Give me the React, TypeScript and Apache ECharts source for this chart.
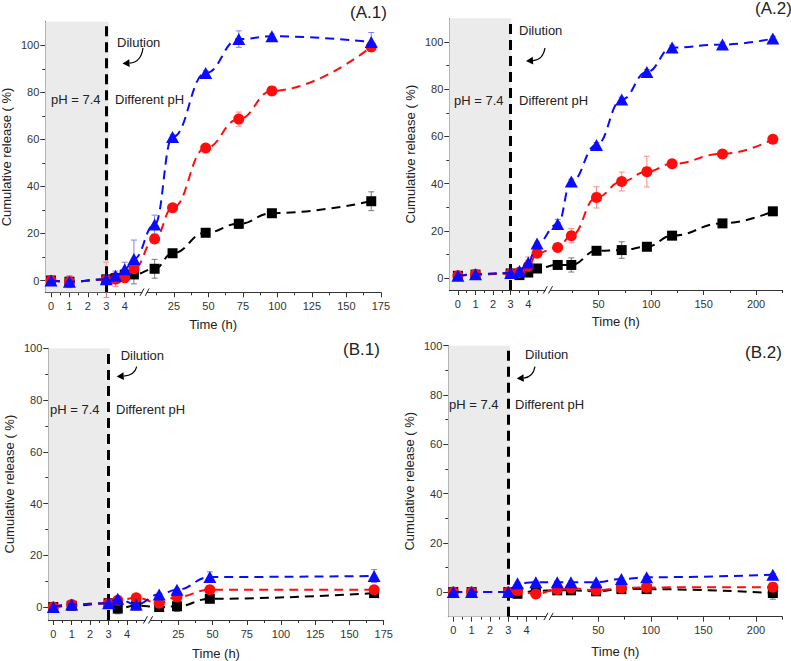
import React, { useEffect, useRef } from "react";
import * as echarts from "echarts";

const FONT = '"Liberation Sans", Arial, Helvetica, sans-serif';

// ---------------- Data (time in h, cumulative release in %) ----------------
// Panel A.1
const a1Times = [0, 1, 3, 3.5, 4, 4.5, 11, 24, 48, 72, 96, 168];
const a1Black = [0, -0.5, 0.5, 1, 2.5, 2.6, 5, 11.6, 20.3, 24.1, 28.6, 33.7];
const a1BlackErr = [1, 1.5, 1.5, 2, 2, 4, 4, 1, 1, 2, 1, 4];
const a1Red = [0, -0.5, 0.3, 0.5, 1.2, 5, 17.7, 30.9, 56.3, 68.6, 80.6, 99.3];
const a1RedErr = [1, 2, 7.5, 3, 2, 2, 1, 1, 1, 3, 1, 1.5];
const a1Blue = [0, -0.5, 0.5, 2, 4.8, 9.2, 23.8, 61, 88.2, 102.6, 103.8, 101.4];
const a1BlueErr = [1, 2.5, 1, 2, 3, 8, 4, 1, 1, 3.5, 1, 4];

// Panel A.2
const a2Times = [0, 1, 3, 3.5, 4, 4.5, 11, 24, 48, 72, 96, 120, 168, 216];
const a2Black = [1, 1.5, 2, 1.3, 2.4, 4.1, 5.6, 5.6, 11.6, 11.9, 13.3, 18, 23.2, 28.3];
const a2BlackErr = [0.5, 0.5, 0.5, 0.5, 1.5, 0.5, 0.5, 3, 0.5, 3.5, 1, 0.5, 0.5, 0.5];
const a2Red = [1, 1.7, 2, 2.5, 5, 10.6, 13, 18, 34.2, 40.9, 45.1, 48.4, 52.6, 58.8];
const a2RedErr = [0.5, 0.5, 0.5, 0.5, 4, 1, 0.5, 3, 4.5, 4, 6.5, 0.5, 0.5, 0.5];
const a2Blue = [1, 1.7, 2.2, 3, 6.6, 14.7, 22.9, 40.9, 56.4, 75.6, 87.3, 97.6, 98.9, 101.4];
const a2BlueErr = [0.5, 0.5, 0.5, 0.5, 1, 0.5, 2, 1, 1, 1, 1, 1, 1, 1];

// Panel B.1
const b1Times = [0, 1, 3, 3.5, 4.5, 11, 24, 48, 168];
const b1Black = [0, 0.5, 1.5, -0.6, 0.6, 0, 0.3, 3.2, 5.4];
const b1BlackErr = [0.5, 0.5, 0.5, 2, 0.5, 1, 2, 1.5, 1];
const b1Red = [0, 1, 1.5, 2.6, 3.6, 1.5, 3.9, 6.7, 6.7];
const b1RedErr = [1, 1, 0.5, 1, 0.5, 1, 1, 0.5, 1];
const b1Blue = [0, 1, 1.5, 3.2, 1, 4.9, 6.7, 11.6, 12];
const b1BlueErr = [0.5, 1, 0.5, 0.5, 0.5, 0.5, 0.5, 2, 2.5];

// Panel B.2
const b2Times = [0, 1, 3, 3.5, 4.5, 11, 24, 48, 72, 96, 216];
const b2Black = [0, 0, 0, -0.7, 0.5, 0.7, 0.7, 0.3, 1.2, 1.2, -0.4];
const b2BlackErr = [0.5, 0.5, 0.5, 1, 0.5, 1, 1, 1, 1.5, 1, 2.5];
const b2Red = [0, 0, 0, 0.5, -0.8, 1, 1.6, 0.7, 1.6, 1.9, 2];
const b2RedErr = [0.5, 0.5, 0.5, 1, 1.5, 1, 1, 1, 2, 1, 1];
const b2Blue = [0, 0, 0, 3.6, 4, 4, 4, 4, 5.3, 6, 7];
const b2BlueErr = [0.5, 0.5, 0.5, 0.5, 0.5, 0.5, 0.5, 0.5, 0.5, 0.5, 0.5];

// Tick labels (hours)
const xTicks175 = [0, 1, 2, 3, 4, 25, 50, 75, 100, 125, 150, 175];
const xMinor175 = [0.5, 1.5, 2.5, 3.5, 4.5, 12.5, 37.5, 62.5, 87.5, 112.5, 137.5, 162.5];
const xTicks225 = [0, 1, 2, 3, 4, 50, 100, 150, 200];
const xMinor225 = [0.5, 1.5, 2.5, 3.5, 4.5, 25, 75, 125, 175, 225];
const yTicks = [0, 20, 40, 60, 80, 100];
const yMinor = [10, 30, 50, 70, 90];

// ---------------- Layout ----------------
type Panel = {
  label: string;
  times: number[];
  black: number[]; blackErr: number[];
  red: number[]; redErr: number[];
  blue: number[]; blueErr: number[];
  box: { left: number; top: number; right: number; bottom: number };
  yMin: number; yMax: number;
  xMin: number; r0: number; k: number; xMaxH: number;
  ticks: number[]; minor: number[];
  shadeEnd: number;
  labelPos: [number, number];
  dilution: [number, number];
  diffPH: [number, number];
  ph74: [number, number];
  arrow: [number, number, number, number];
  brk: [number, number];
  xNameGap: number;
};

const panels: Panel[] = [
  {
    label: "(A.1)", times: a1Times, black: a1Black, blackErr: a1BlackErr, red: a1Red, redErr: a1RedErr, blue: a1Blue, blueErr: a1BlueErr,
    box: { left: 45.3, top: 21.7, right: 380.9, bottom: 292.3 }, yMin: -5, yMax: 110,
    xMin: -0.31, r0: 4.8, k: 0.0749, xMaxH: 175, ticks: xTicks175, minor: xMinor175, shadeEnd: 3.13,
    labelPos: [350, 12], dilution: [117, 42], diffPH: [115, 99], ph74: [51, 99], arrow: [143, 48, 122.5, 63.5], brk: [144.6, 292.3], xNameGap: 26,
  },
  {
    label: "(A.2)", times: a2Times, black: a2Black, blackErr: a2BlackErr, red: a2Red, redErr: a2RedErr, blue: a2Blue, blueErr: a2BlueErr,
    box: { left: 449.3, top: 18.3, right: 782.3, bottom: 290 }, yMin: -5, yMax: 110,
    xMin: -0.49, r0: 5.017, k: 0.0597, xMaxH: 225, ticks: xTicks225, minor: xMinor225, shadeEnd: 3.04,
    labelPos: [755, 8], dilution: [519, 30], diffPH: [519, 100], ph74: [454, 100], arrow: [545, 48, 526, 61], brk: [547.9, 290], xNameGap: 25,
  },
  {
    label: "(B.1)", times: b1Times, black: b1Black, blackErr: b1BlackErr, red: b1Red, redErr: b1RedErr, blue: b1Blue, blueErr: b1BlueErr,
    box: { left: 48.3, top: 348.3, right: 383.7, bottom: 620 }, yMin: -5, yMax: 100,
    xMin: -0.27, r0: 4.93, k: 0.0743, xMaxH: 175, ticks: xTicks175, minor: xMinor175, shadeEnd: 3.08,
    labelPos: [343, 349.5], dilution: [120.7, 355.7], diffPH: [116, 409], ph74: [50, 409], arrow: [136.7, 366.7, 116.7, 376.5], brk: [148, 620], xNameGap: 27,
  },
  {
    label: "(B.2)", times: b2Times, black: b2Black, blackErr: b2BlackErr, red: b2Red, redErr: b2RedErr, blue: b2Blue, blueErr: b2BlueErr,
    box: { left: 448.3, top: 345.7, right: 782.3, bottom: 616.7 }, yMin: -10, yMax: 100,
    xMin: -0.27, r0: 5.035, k: 0.0573, xMaxH: 225, ticks: xTicks225, minor: xMinor225, shadeEnd: 3.09,
    labelPos: [745, 352], dilution: [525, 354], diffPH: [515, 404], ph74: [449, 404], arrow: [535, 366.7, 516.7, 378.5], brk: [548.5, 616.7], xNameGap: 28,
  },
];

const BLUE = "#0b0bff";
const RED = "#ff0d0d";
const BLACK = "#000000";

function makeT(p: Panel) {
  return (h: number) => (h < 6 ? h : p.r0 + h * p.k);
}

function errSeries(p: Panel, vals: number[], errs: number[], color: string, xi: number, yi: number, T: (h: number) => number) {
  return {
    type: "custom",
    xAxisIndex: xi,
    yAxisIndex: yi,
    z: 2,
    silent: true,
    data: p.times.map((t, i) => [T(t), vals[i] - errs[i], vals[i] + errs[i]]),
    encode: { x: 0, y: [1, 2] },
    renderItem: (params: any, api: any) => {
      const x = api.value(0);
      const top = api.coord([x, api.value(2)]);
      const bot = api.coord([x, api.value(1)]);
      const w = 3;
      const st = { stroke: color, lineWidth: 1 };
      return {
        type: "group",
        children: [
          { type: "line", shape: { x1: top[0], y1: top[1], x2: bot[0], y2: bot[1] }, style: st },
          { type: "line", shape: { x1: top[0] - w, y1: top[1], x2: top[0] + w, y2: top[1] }, style: st },
          { type: "line", shape: { x1: bot[0] - w, y1: bot[1], x2: bot[0] + w, y2: bot[1] }, style: st },
        ],
      };
    },
  };
}

function lineSeries(p: Panel, vals: number[], color: string, symbol: string, size: any, z: number, xi: number, yi: number, T: (h: number) => number) {
  return {
    type: "line",
    xAxisIndex: xi,
    yAxisIndex: yi,
    z,
    data: p.times.map((t, i) => [T(t), vals[i]]),
    smooth: 0.45,
    smoothMonotone: "x",
    symbol,
    symbolSize: size,
    showAllSymbol: true,
    itemStyle: { color },
    lineStyle: { color, width: 2, type: [9, 6] },
  };
}

function textEl(text: string, x: number, y: number, size: number) {
  return {
    type: "text",
    x,
    y,
    z: 60,
    style: {
      text,
      fill: "#222",
      font: `${size}px ${FONT}`,
      fontSize: size,
      fontFamily: FONT,
      textAlign: "left",
      textVerticalAlign: "middle",
      align: "left",
      verticalAlign: "middle",
    },
  };
}

function arrowEls(sx: number, sy: number, tx: number, ty: number) {
  const cx = sx - 2;
  const cy = ty - 1;
  let dx = tx - cx;
  let dy = ty - cy;
  const L = Math.hypot(dx, dy);
  dx /= L;
  dy /= L;
  const bx = tx - dx * 7;
  const by = ty - dy * 7;
  const px = -dy;
  const py = dx;
  return [
    { type: "bezierCurve", z: 60, shape: { x1: sx, y1: sy, x2: bx, y2: by, cpx1: cx, cpy1: cy }, style: { stroke: "#000", lineWidth: 1.2, fill: null } },
    { type: "polygon", z: 60, shape: { points: [[tx, ty], [bx + px * 3.8, by + py * 3.8], [bx - px * 3.8, by - py * 3.8]] }, style: { fill: "#000" } },
  ];
}

function breakEls(bx: number, by: number) {
  const st = { stroke: "#222", lineWidth: 1 };
  return [
    { type: "rect", z: 55, shape: { x: bx - 2.2, y: by - 1.5, width: 4.4, height: 3 }, style: { fill: "#fff" } },
    { type: "line", z: 56, shape: { x1: bx - 4.6, y1: by + 3.5, x2: bx - 0.6, y2: by - 3.8 }, style: st },
    { type: "line", z: 56, shape: { x1: bx + 0.6, y1: by + 3.5, x2: bx + 4.6, y2: by - 3.8 }, style: st },
  ];
}

function buildOption() {
  const grid: any[] = [];
  const xAxis: any[] = [];
  const yAxis: any[] = [];
  const series: any[] = [];
  const graphic: any[] = [];

  panels.forEach((p, i) => {
    const T = makeT(p);
    grid.push({
      left: p.box.left,
      top: p.box.top,
      width: p.box.right - p.box.left,
      height: p.box.bottom - p.box.top,
      containLabel: false,
      outerBoundsMode: "none",
    });
    const xMax = T(p.xMaxH);
    const tickVals = p.ticks.map(T);
    const labelOf = (v: number) => {
      let best = 0;
      let bd = Infinity;
      tickVals.forEach((tv, j) => {
        const d = Math.abs(tv - v);
        if (d < bd) {
          bd = d;
          best = j;
        }
      });
      return String(p.ticks[best]);
    };
    const xi = i * 2;
    const yi = i * 2;
    xAxis.push({
      type: "value",
      gridIndex: i,
      position: "bottom",
      min: p.xMin,
      max: xMax,
      name: "Time (h)",
      nameLocation: "middle",
      nameGap: p.xNameGap,
      nameTextStyle: { fontSize: 13, color: "#222", fontFamily: FONT },
      axisLine: { show: true, onZero: false, lineStyle: { color: "#333", width: 1 } },
      axisTick: { show: true, inside: false, length: 5, customValues: tickVals, lineStyle: { color: "#333" } },
      axisLabel: { show: true, customValues: tickVals, formatter: (v: number) => labelOf(v), fontSize: 11, color: "#333", margin: 8, fontFamily: FONT },
      splitLine: { show: false },
      minorTick: { show: false },
    });
    xAxis.push({
      type: "value",
      gridIndex: i,
      position: "bottom",
      min: p.xMin,
      max: xMax,
      axisLine: { show: false, onZero: false },
      axisTick: { show: true, inside: false, length: 3, customValues: p.minor.map(T), lineStyle: { color: "#333" } },
      axisLabel: { show: false },
      splitLine: { show: false },
    });
    yAxis.push({
      type: "value",
      gridIndex: i,
      position: "left",
      min: p.yMin,
      max: p.yMax,
      name: "Cumulative release ( %)",
      nameLocation: "middle",
      nameRotate: 90,
      nameGap: 32,
      nameTextStyle: { fontSize: 13, color: "#222", fontFamily: FONT },
      axisLine: { show: true, onZero: false, lineStyle: { color: "#333", width: 1 } },
      axisTick: { show: true, inside: false, length: 5, customValues: yTicks, lineStyle: { color: "#333" } },
      axisLabel: { show: true, customValues: yTicks, fontSize: 11, color: "#333", margin: 6, fontFamily: FONT },
      splitLine: { show: false },
    });
    yAxis.push({
      type: "value",
      gridIndex: i,
      position: "left",
      min: p.yMin,
      max: p.yMax,
      axisLine: { show: false, onZero: false },
      axisTick: { show: true, inside: false, length: 3, customValues: yMinor, lineStyle: { color: "#333" } },
      axisLabel: { show: false },
      splitLine: { show: false },
    });

    // shading + dilution line
    series.push({
      type: "line",
      xAxisIndex: xi,
      yAxisIndex: yi,
      z: 1,
      silent: true,
      data: [[p.xMin, p.yMin]],
      symbol: "none",
      lineStyle: { opacity: 0 },
      markArea: {
        silent: true,
        itemStyle: { color: "#ebebeb" },
        data: [[{ coord: [p.xMin, p.yMin] }, { coord: [T(p.shadeEnd), p.yMax] }]],
      },
      markLine: {
        silent: true,
        symbol: ["none", "none"],
        label: { show: false },
        lineStyle: { color: "#000", width: 3, type: [10, 6] },
        data: [{ xAxis: T(3) }],
      },
    });

    series.push(errSeries(p, p.black, p.blackErr, "#7a7a7a", xi, yi, T));
    series.push(errSeries(p, p.red, p.redErr, "#ff8a8a", xi, yi, T));
    series.push(errSeries(p, p.blue, p.blueErr, "#8080ff", xi, yi, T));
    series.push(lineSeries(p, p.black, BLACK, "rect", 10, 3, xi, yi, T));
    series.push(lineSeries(p, p.red, RED, "circle", 11, 4, xi, yi, T));
    series.push(lineSeries(p, p.blue, BLUE, "triangle", [13, 12], 5, xi, yi, T));

    graphic.push(textEl(p.label, p.labelPos[0], p.labelPos[1], 17));
    graphic.push(textEl("Dilution", p.dilution[0], p.dilution[1], 13));
    graphic.push(textEl("Different pH", p.diffPH[0], p.diffPH[1], 13));
    graphic.push(textEl("pH = 7.4", p.ph74[0], p.ph74[1], 13));
    arrowEls(p.arrow[0], p.arrow[1], p.arrow[2], p.arrow[3]).forEach((e) => graphic.push(e));
    breakEls(p.brk[0], p.brk[1]).forEach((e) => graphic.push(e));
  });

  return {
    animation: false,
    backgroundColor: "#ffffff",
    textStyle: { fontFamily: FONT },
    grid,
    xAxis,
    yAxis,
    series,
    graphic,
  };
}

export default function App() {
  const ref = useRef<HTMLDivElement | null>(null);
  useEffect(() => {
    if (!ref.current) return;
    const chart = echarts.init(ref.current, undefined, { renderer: "svg" });
    chart.setOption(buildOption() as any);
    return () => {
      chart.dispose();
    };
  }, []);
  return (
    <div
      ref={ref}
      style={{ position: "fixed", left: 0, top: 0, width: 791, height: 661, background: "#fff" }}
    />
  );
}
